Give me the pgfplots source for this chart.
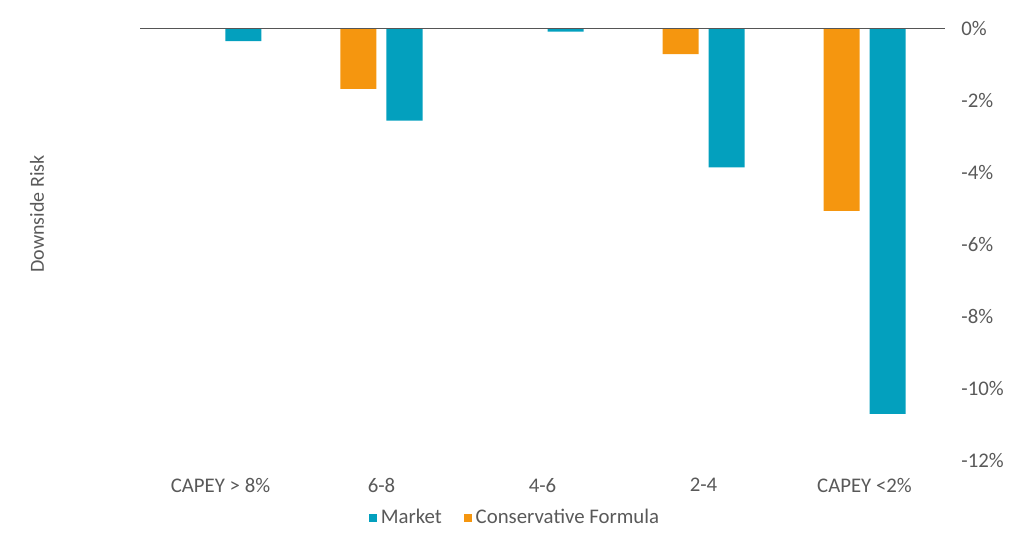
\documentclass[border=0pt]{standalone}
\usepackage{fontspec}
\setmainfont{Carlito}
\usepackage{pgfplots}
\pgfplotsset{compat=1.18}
\definecolor{mkt}{HTML}{03A0BE}
\definecolor{cons}{HTML}{F5960F}
\definecolor{txt}{HTML}{595959}
\definecolor{zeroline}{HTML}{555555}

\begin{document}
\begin{tikzpicture}
	\begin{axis}[
		at={(0,0)}, anchor=south west,
		scale only axis,
		width=402.5bp, height=215.75bp,
		ybar=5bp, bar width=18bp,
		xmin=-0.5, xmax=4.5,
		ymin=-12, ymax=0,
		xtick={0,1,2,3,4},
		xticklabels={CAPEY > 8\%, 6-8, 4-6, 2-4, CAPEY <2\%},
		ytick={-12,-10,-8,-6,-4,-2,0},
		yticklabels={-12\%,-10\%,-8\%,-6\%,-4\%,-2\%,0\%},
		ytick pos=right,
		major tick length=0pt,
		axis line style={draw=none},
		tick label style={font=\fontsize{10.4bp}{12bp}\selectfont, text=txt},
		yticklabel style={anchor=west, inner sep=0pt, xshift=8bp},
		xticklabel style={anchor=north, inner sep=0pt, yshift=-9bp},
		ylabel={Downside Risk},
		ylabel style={at={(rel axis cs:-0.128,0.57)}, anchor=center, font=\fontsize{10bp}{12bp}\selectfont, text=txt},
		legend style={draw=none, at={(rel axis cs:0.467,-0.134)}, anchor=center,
			font=\fontsize{10.4bp}{12bp}\selectfont, text=txt, fill=none,
			/tikz/every even column/.append style={column sep=9bp}},
		legend columns=2,
		reverse legend,
		legend image code/.code={\fill[#1] (0bp,-2bp) rectangle (4bp,2bp);},
		]
		\addplot[fill=cons, draw=none] coordinates {
			(1, -1.68)
			(3, -0.71)
			(4, -5.07)
		};
		\addplot[fill=mkt, draw=none] coordinates {
			(0, -0.35)
			(1, -2.56)
			(2, -0.09)
			(3, -3.86)
			(4, -10.72)
		};
		\legend{Conservative Formula, Market}
		\draw[zeroline, line width=1bp] (axis cs:-0.5,0) -- (axis cs:4.5,0);
	\end{axis}
	\path[use as bounding box] (-70bp,-39bp) rectangle (442bp,230bp);
\end{tikzpicture}
\end{document}
